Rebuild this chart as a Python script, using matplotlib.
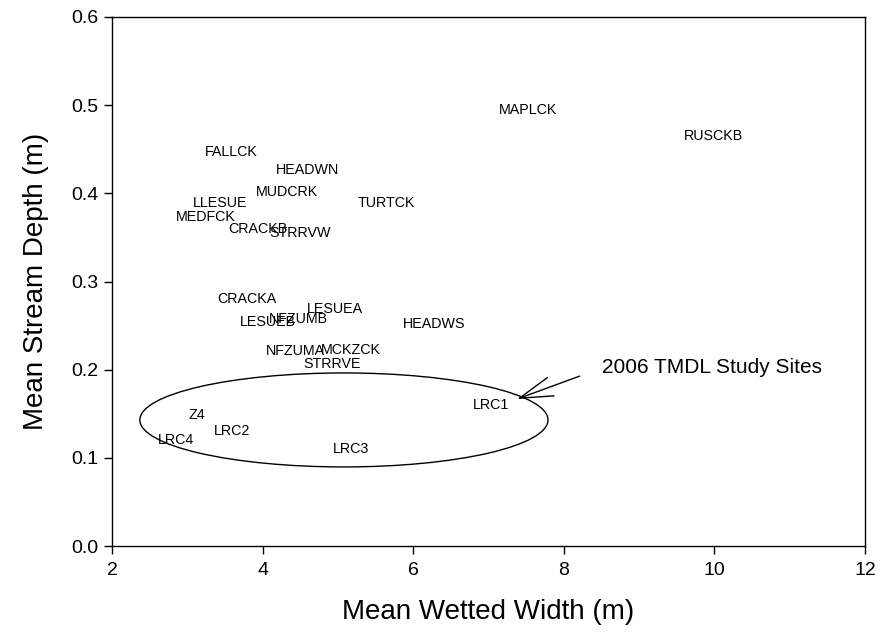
import matplotlib
matplotlib.use("Agg")
import matplotlib.pyplot as plt
from matplotlib.patches import Ellipse

plt.rcParams['font.family'] = ['Liberation Sans', 'DejaVu Sans']

sites = ["MAPLCK", "RUSCKB", "FALLCK", "HEADWN", "MUDCRK", "LLESUE", "TURTCK",
         "MEDFCK", "CRACKB", "STRRVW", "CRACKA", "LESUEB", "NFZUMB", "LESUEA",
         "HEADWS", "NFZUMA", "MCKZCK", "STRRVE", "Z4", "LRC4", "LRC2", "LRC3", "LRC1"]
width_m = [7.52, 9.99, 3.59, 4.60, 4.32, 3.43, 5.64,
           3.24, 3.94, 4.50, 3.79, 4.07, 4.48, 4.96,
           6.28, 4.43, 5.17, 4.92, 3.13, 2.85, 3.59, 5.17, 7.03]
depth_m = [0.494, 0.465, 0.447, 0.426, 0.401, 0.389, 0.389,
           0.373, 0.359, 0.355, 0.280, 0.254, 0.258, 0.269,
           0.252, 0.221, 0.222, 0.207, 0.149, 0.120, 0.130, 0.110, 0.160]

x_ticks = [2, 4, 6, 8, 10, 12]
y_ticks = [0.0, 0.1, 0.2, 0.3, 0.4, 0.5, 0.6]
y_tick_labels = ["0.0", "0.1", "0.2", "0.3", "0.4", "0.5", "0.6"]

annot_text = "2006 TMDL Study Sites"

fig = plt.figure(figsize=(8.96, 6.39), dpi=100)
ax = fig.add_axes([0.125, 0.1455, 0.8404, 0.8279])

for name, x, y in zip(sites, width_m, depth_m):
    ax.text(x, y, name, ha='center', va='center', fontsize=10.3)

ax.set_xlim(2, 12)
ax.set_ylim(0, 0.6)
ax.set_xticks(x_ticks)
ax.set_xticklabels([str(t) for t in x_ticks])
ax.set_yticks(y_ticks)
ax.set_yticklabels(y_tick_labels)
ax.tick_params(direction='out', length=8 * 0.72, width=1, labelsize=14,
               top=False, right=False)
ax.tick_params(axis='x', pad=6)
ax.tick_params(axis='y', pad=4)
for s in ax.spines.values():
    s.set_linewidth(1)

ax.set_xlabel("Mean Wetted Width (m)", fontsize=20, labelpad=14)
ax.set_ylabel("Mean Stream Depth (m)", fontsize=20, labelpad=16)

# ellipse around the 2006 TMDL study sites
ell = Ellipse((5.08, 0.143), 5.42, 0.1066, fill=False, edgecolor='black', linewidth=1)
ax.add_patch(ell)

ax.annotate("", xy=(7.38, 0.1667), xytext=(8.21, 0.1927),
            arrowprops=dict(arrowstyle='->,head_length=24,head_width=7', mutation_scale=1,
                            shrinkA=0, shrinkB=0, color='black', linewidth=1))
ax.text(8.51, 0.202, annot_text, ha='left', va='center', fontsize=15)

fig.savefig("out.png", dpi=100)
